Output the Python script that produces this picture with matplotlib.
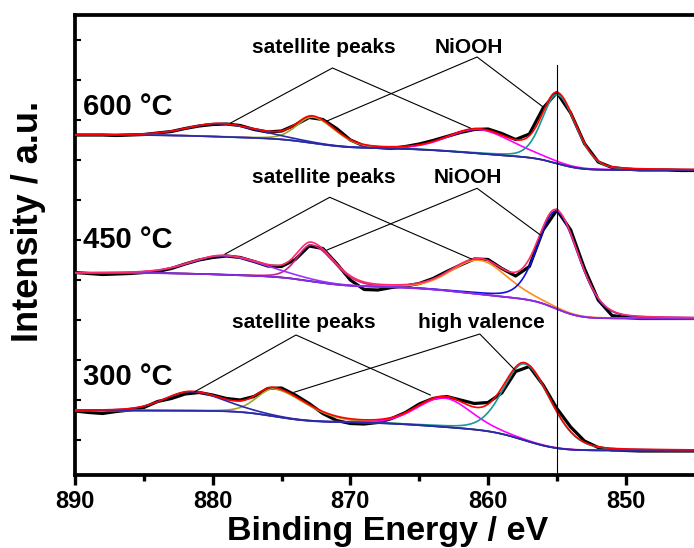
import math
import numpy as np
import matplotlib
matplotlib.use("Agg")
import matplotlib.pyplot as plt

# ---------------- data ----------------
energy = list(range(890, 844, -1))  # binding energy, eV (890 ... 845)

data_600 = [340, 340, 340, 339.5, 340, 340.5, 342, 343.5, 346.5, 349,
            350.5, 351, 349.5, 345.5, 343, 344, 350, 357.5, 355.5, 346.5,
            335, 329, 327.5, 326.5, 328.5, 331, 334.5, 338.5, 342.5, 345.5,
            346, 341.5, 335.5, 341, 367, 382.5, 362, 331.5, 313, 307.5,
            306, 305, 305, 305, 304.5, 304.5]
data_450 = [202.5, 201.5, 200.5, 201, 201.5, 202.5, 203.5, 206.5, 211, 215,
            217.5, 219, 217.5, 213.5, 209, 208.5, 215.5, 229, 226.5, 211.5,
            195, 185.5, 185, 187.5, 189, 191.5, 196.5, 203.5, 210, 216,
            215.5, 206.5, 199, 208.5, 245, 265, 245, 206.5, 175, 159.5,
            157.5, 156.5, 156.5, 156.5, 156.5, 156.5]
data_300 = [64, 62.5, 61.5, 63.5, 65, 67.5, 73.5, 76.5, 81, 82.5,
            80, 76.5, 75, 78.5, 86.5, 87, 80, 71.5, 61.5, 54.5,
            51.5, 51, 52.5, 56.5, 62.5, 71, 76.5, 78.5, 75, 71.5,
            72.5, 82, 103.5, 108.5, 90, 66.5, 48, 34, 27.5, 25,
            24.5, 24, 24, 24, 24, 24]

# fitted components: centre, height, half widths (high-BE / low-BE side), background steps
cen_600 = [879.5, 872.7, 860.7, 854.95]
hgt_600 = [13, 26, 24, 69]
hwh_600 = [2.7, 1.4, 2.6, 1.3]
hwl_600 = [3.3, 1.9, 2.9, 1.6]
stp_600 = [3.5, 9.5, 11, 11]
stw_600 = [3, 2, 4, 1.3]
base_600 = 305

cen_450 = [879.2, 872.8, 860.6, 855.0]
hgt_450 = [19, 36.5, 34, 97.5]
hwh_450 = [2.8, 1.25, 2.45, 1.6]
hwl_450 = [3.5, 1.9, 2.35, 1.9]
stp_450 = [3.5, 10, 15.5, 16.5]
stw_450 = [3, 2, 4, 1.3]
base_450 = 156.5

cen_300 = [881.6, 875.5, 863.2, 857.3]
hgt_300 = [19, 27.5, 29, 76.5]
hwh_300 = [2.25, 1.5, 2.3, 1.85]
hwl_300 = [2.8, 2.75, 2.3, 2.2]
stp_300 = [0.5, 11, 10, 18.5]
stw_300 = [3, 2, 4, 1.9]
base_300 = 24.5

temps = ["600 \u00b0C", "450 \u00b0C", "300 \u00b0C"]

# ---------------- style ----------------
FONT = "Liberation Sans"
plt.rcParams["font.family"] = [FONT, "DejaVu Sans"]
plt.rcParams["font.weight"] = "bold"

cols_a = {"env": "#ff0000", "comp": ["#2a2aa8", "#a3a328", "#ff00ff", "#189898"], "bg": "#2a2aa8"}
cols_b = {"env": "#ff2a6a", "comp": ["#9933ff", "#cc1f88", "#ff8c1a", "#1010dd"], "bg": "#8a2be2"}

erf = np.vectorize(math.erf)


def pv(E, c, h, whi, wlo, eta=0.2):
    w = np.where(E >= c, whi, wlo)
    u = ((E - c) / w) ** 2
    return h * ((1 - eta) * np.exp(-np.log(2) * u) + eta / (1 + u))


def background(E, base, cens, steps, widths):
    b = np.full_like(E, float(base))
    for c, s, w in zip(cens, steps, widths):
        b += s * 0.5 * (1 + erf((E - c) / (w * np.sqrt(2))))
    return b


fig = plt.figure(figsize=(6.94, 5.48), dpi=100)
W, H = 694.0, 548.0
ax = fig.add_axes([75 / W, 1 - 475 / H, (694.6 - 75) / W, 460 / H])

E = np.linspace(845, 890, 1801)

spectra = [
    (data_600, cen_600, hgt_600, hwh_600, hwl_600, stp_600, stw_600, base_600, cols_a),
    (data_450, cen_450, hgt_450, hwh_450, hwl_450, stp_450, stw_450, base_450, cols_b),
    (data_300, cen_300, hgt_300, hwh_300, hwl_300, stp_300, stw_300, base_300, cols_a),
]

for dat, cens, hs, whs, wls, sts, sws, base, cc in spectra:
    bg = background(E, base, cens, sts, sws)
    ax.plot(energy, dat, color="black", lw=2.3, zorder=2)
    comps = [pv(E, c, h, a, b) for c, h, a, b in zip(cens, hs, whs, wls)]
    for i in [1, 2, 3, 0]:
        ax.plot(E, bg + comps[i], color=cc["comp"][i], lw=1.2, zorder=3)
    ax.plot(E, bg, color=cc["bg"], lw=1.2, zorder=3)
    ax.plot(E, bg + sum(comps), color=cc["env"], lw=1.2, zorder=4)

# vertical reference line
ax.plot([855, 855], [0, 410], color="black", lw=0.8, zorder=5)

# annotation leader lines  (apex, end1, end2)
leaders = [
    ((871.3, 407), (878.7, 352), (861.3, 347)),
    ((860.8, 418), (871.7, 354), (856.0, 368)),
    ((871.5, 277.7), (879.1, 221), (861.2, 216)),
    ((860.8, 286.7), (871.7, 225), (856.2, 240)),
    ((873.95, 140), (881.3, 83.3), (864.2, 80)),
    ((860.6, 141), (874.1, 82.7), (858.0, 104.3)),
]
for apex, e1, e2 in leaders:
    ax.plot([e1[0], apex[0], e2[0]], [e1[1], apex[1], e2[1]], color="black", lw=0.8, zorder=5)

# annotation texts
ann = [
    ("satellite peaks", 871.9, 422), ("NiOOH", 861.4, 422.3),
    ("satellite peaks", 871.9, 291.7), ("NiOOH", 861.5, 292.3),
    ("satellite peaks", 873.4, 147), ("high valence", 860.5, 147.5),
]
for t, x, y in ann:
    ax.text(x, y, t, fontsize=15, fontweight="bold", ha="center", va="baseline", zorder=6)

temp_y = [360, 226.7, 90]
for t, y in zip(temps, temp_y):
    ax.text(889.4, y, t, fontsize=21, fontweight="bold", ha="left", va="baseline", zorder=6)

# axes
ax.set_xlim(890, 845)
ax.set_ylim(0, 460)
ax.set_xticks([890, 880, 870, 860, 850])
ax.set_xticks([885, 875, 865, 855], minor=True)
ax.set_xticklabels(["890", "880", "870", "860", "850"], fontsize=17, fontweight="bold")
ax.set_yticks([35 + 40 * k for k in range(11)])
ax.set_yticklabels([])
ax.tick_params(axis="x", which="major", direction="out", length=7, width=2.4, pad=4)
ax.tick_params(axis="x", which="minor", direction="out", length=4.5, width=2.4)
ax.tick_params(axis="y", which="major", direction="in", length=4, width=1.5)
for s in ["left", "top", "bottom"]:
    ax.spines[s].set_linewidth(2.7)
ax.spines["right"].set_visible(False)

fig.text(388 / W, 1 - 540 / H, "Binding Energy / eV", fontsize=24.5, fontweight="bold",
         ha="center", va="baseline")
fig.text(29 / W, 1 - 221 / H, "Intensity / a.u.", fontsize=26, fontweight="bold",
         rotation=90, ha="center", va="center")

fig.savefig("out.png", dpi=100)
